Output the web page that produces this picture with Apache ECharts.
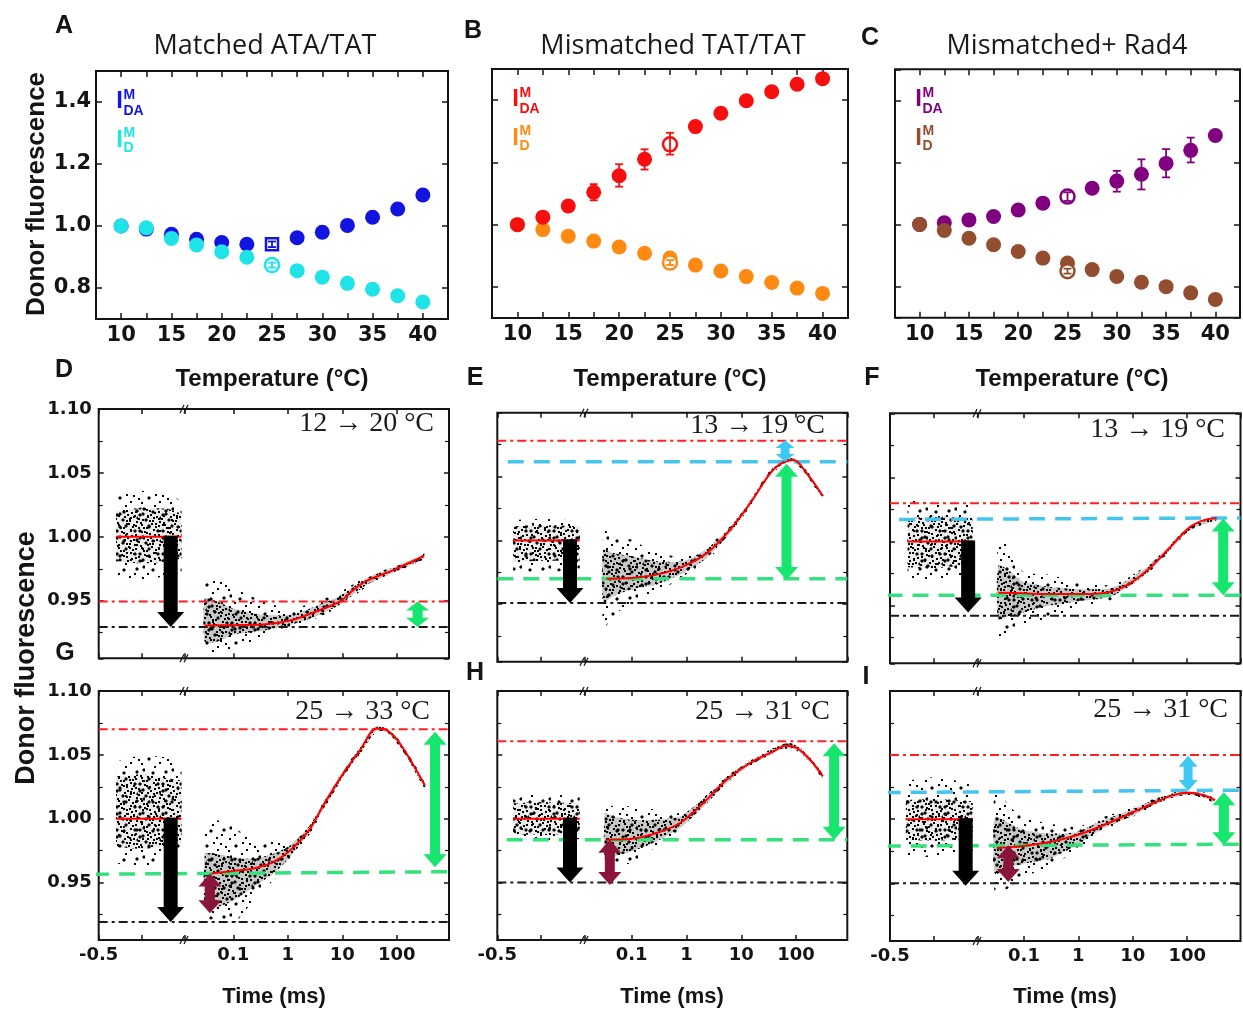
<!DOCTYPE html>
<html>
<head>
<meta charset="utf-8">
<script src="https://cdn.jsdelivr.net/npm/echarts@6/dist/echarts.min.js"></script>
<style>
html, body { margin: 0; background: #fff; }
#main { width: 1243px; height: 1011px; }
</style>
</head>
<body>
<div id="main"></div>
<script>
// ---------- top row: donor fluorescence vs temperature ----------
var tempC = [10, 12.5, 15, 17.5, 20, 22.5, 25, 27.5, 30, 32.5, 35, 37.5, 40];

var matchedIDA = [1.0, 0.99, 0.973, 0.957, 0.947, 0.941, null, 0.962, 0.98, 1.002, 1.028, 1.055, 1.10];
var matchedID  = [1.0, 0.994, 0.96, 0.939, 0.917, 0.899, null, 0.856, 0.835, 0.815, 0.796, 0.775, 0.755];
var matchedOpenIDA = [[25, 0.941]];
var matchedOpenID  = [[25, 0.874]];
var matchedErrIDA = [[25, 0.932, 0.950]];
var matchedErrID  = [[25, 0.866, 0.882]];

var mismIDA = [1.0, 1.024, 1.06, 1.104, 1.157, 1.21, null, 1.315, 1.358, 1.398, 1.427, 1.451, 1.469];
var mismID  = [1.0, 0.984, 0.963, 0.947, 0.928, 0.908, 0.893, 0.87, 0.851, 0.833, 0.814, 0.796, 0.779];
var mismOpenIDA = [[25, 1.258]];
var mismOpenID  = [[25, 0.878]];
var mismErrIDA = [[17.5, 1.078, 1.13], [20, 1.122, 1.194], [22.5, 1.177, 1.242], [25, 1.225, 1.295]];
var mismErrID  = [[25, 0.870, 0.886]];

var rad4IDA = [1.0, 1.006, 1.015, 1.026, 1.047, 1.069, null, 1.117, 1.14, 1.162, 1.197, 1.239, 1.287];
var rad4ID  = [1.0, 0.981, 0.956, 0.935, 0.913, 0.892, 0.876, 0.855, 0.833, 0.814, 0.8, 0.78, 0.759];
var rad4OpenIDA = [[25, 1.09]];
var rad4OpenID  = [[25, 0.85]];
var rad4ErrIDA = [[25, 1.076, 1.104], [30, 1.106, 1.173], [32.5, 1.113, 1.21], [35, 1.152, 1.243], [37.5, 1.2, 1.28]];
var rad4ErrID  = [[25, 0.842, 0.858]];

// ---------- kinetic traces (x: ms, pre-trigger linear / post log) ----------
var D_preOuter  = [[-0.4, 0.968, 1.032], [-0.25, 0.965, 1.036], [-0.1, 0.970, 1.034], [-0.02, 0.972, 1.028]];
var D_preInner  = [[-0.4, 0.981, 1.020], [-0.25, 0.979, 1.023], [-0.1, 0.981, 1.022], [-0.02, 0.983, 1.018]];
var D_postOuter = [[0.030, 0.909, 0.965], [0.05, 0.908, 0.966], [0.1, 0.911, 0.960], [0.355, 0.922, 0.9495], [1.1, 0.929, 0.944], [3.4, 0.9365, 0.9495], [9.1, 0.9456, 0.957], [28, 0.961, 0.969], [86, 0.9715, 0.9767], [316, 0.9827, 0.987]];
var D_postInner = [[0.030, 0.918, 0.952], [0.05, 0.918, 0.9495], [0.1, 0.9235, 0.944], [0.355, 0.9266, 0.939], [1.1, 0.931, 0.939], [3.4, 0.938, 0.946], [9.1, 0.947, 0.954], [28, 0.9625, 0.9676], [86, 0.972, 0.976], [316, 0.983, 0.986]];
var D_fit = [[0.030, 0.9306], [0.1, 0.9309], [0.355, 0.9314], [1.1, 0.9345], [3.4, 0.9418], [9.1, 0.9495], [16, 0.9585], [28, 0.9655], [86, 0.974], [316, 0.985]];
var D_preLevel = [[-0.4, 1.0], [-0.02, 1.0]];
var D_red = [0.9494, 0.9494];
var D_black = [0.9295, 0.9295];
var D_blackArrow = [-0.083, 1.0, 0.9295];
var D_greenArrow = [241, 0.9495, 0.9295];

var E_preOuter  = [[-0.41, 0.976, 1.016], [-0.25, 0.975, 1.017], [-0.1, 0.976, 1.016], [-0.03, 0.978, 1.015]];
var E_preInner  = [[-0.41, 0.983, 1.011], [-0.25, 0.984, 1.012], [-0.03, 0.984, 1.011]];
var E_postOuter = [[0.0304, 0.9304, 1.0083], [0.046, 0.9408, 1.0031], [0.1, 0.9512, 1.0005], [0.286, 0.959, 0.9901], [0.877, 0.972, 0.9875], [2.34, 0.9836, 0.9953], [6.24, 1.0044, 1.011], [14.5, 1.0265, 1.0317], [33.6, 1.0504, 1.0551], [55, 1.0585, 1.0625], [89.5, 1.0608, 1.065], [157, 1.0505, 1.0545], [308, 1.0327, 1.0369]];
var E_postInner = [[0.0304, 0.9512, 0.9927], [0.046, 0.9564, 0.9901], [0.1, 0.9616, 0.9875], [0.286, 0.9655, 0.9836], [0.877, 0.9745, 0.9836], [2.34, 0.9862, 0.9932], [6.24, 1.0057, 1.0099], [14.5, 1.0273, 1.0309], [33.6, 1.0512, 1.0543], [55, 1.0592, 1.0618], [89.5, 1.0616, 1.0642], [157, 1.0512, 1.0538], [308, 1.0335, 1.0361]];
var E_fit = [[0.035, 0.970], [0.1, 0.9706], [0.286, 0.9732], [0.877, 0.9797], [2.34, 0.990], [6.24, 1.0083], [14.5, 1.029], [33.6, 1.0525], [51, 1.0597], [89.5, 1.0629], [157, 1.0525], [308, 1.0348]];
var E_preLevel = [[-0.41, 1.0], [-0.03, 1.0]];
var E_red = [1.078, 1.078];
var E_cyan = [1.0616, 1.0616];
var E_green = [0.970, 0.970];
var E_black = [0.951, 0.951];
var E_blackArrow = [-0.0856, 1.0, 0.951];
var E_cyanArrow = [63, 1.0785, 1.0616];
var E_greenArrow = [67, 1.0600, 0.969];

var F_preOuter  = [[-0.4, 0.972, 1.033], [-0.25, 0.970, 1.030], [-0.1, 0.973, 1.030], [-0.03, 0.976, 1.028]];
var F_preInner  = [[-0.4, 0.980, 1.018], [-0.25, 0.979, 1.020], [-0.03, 0.982, 1.018]];
var F_postOuter = [[0.0338, 0.9234, 1.0059], [0.0553, 0.9287, 0.9952], [0.097, 0.934, 0.9766], [0.30, 0.9394, 0.9739], [1.23, 0.950, 0.9673], [3.8, 0.954, 0.966], [8.85, 0.9646, 0.9726], [20.6, 0.9766, 0.9832], [48, 0.9926, 0.9979], [112, 1.0085, 1.0125], [347, 1.0165, 1.0191]];
var F_postInner = [[0.0338, 0.9394, 0.9819], [0.0553, 0.942, 0.9766], [0.097, 0.9447, 0.9686], [0.30, 0.950, 0.9646], [1.23, 0.954, 0.9628], [3.8, 0.9566, 0.9633], [8.85, 0.9654, 0.9707], [20.6, 0.9774, 0.9819], [48, 0.9934, 0.9971], [112, 1.009, 1.012], [347, 1.017, 1.0186]];
var F_fit = [[0.0338, 0.960], [0.097, 0.9596], [0.30, 0.959], [1.23, 0.959], [3.8, 0.9606], [8.85, 0.9673], [20.6, 0.9793], [48, 0.9952], [112, 1.0112], [197, 1.0165], [347, 1.0184]];
var F_preLevel = [[-0.40, 1.0], [-0.03, 1.0]];
var F_red = [1.0298, 1.0298];
var F_cyan = [1.0172, 1.0184];
var F_green = [0.958, 0.958];
var F_black = [0.942, 0.942];
var F_blackArrow = [-0.056, 1.0, 0.9447];
var F_greenArrow = [459, 1.018, 0.958];

var G_preOuter  = [[-0.4, 0.965, 1.045], [-0.25, 0.962, 1.050], [-0.1, 0.966, 1.048], [-0.02, 0.972, 1.040]];
var G_preInner  = [[-0.4, 0.978, 1.033], [-0.25, 0.976, 1.035], [-0.02, 0.980, 1.030]];
var G_postOuter = [[0.0303, 0.9228, 0.9935], [0.0495, 0.9202, 0.9987], [0.1, 0.9176, 0.9935], [0.233, 0.9359, 0.983], [0.542, 0.9516, 0.9817], [1.1, 0.9647, 0.983], [2.55, 0.9882, 0.9961], [4.48, 1.0065, 1.0131], [10.4, 1.0327, 1.0379], [21.1, 1.0505, 1.0563], [42.7, 1.0683, 1.0725], [65, 1.0672, 1.0714], [114, 1.0563, 1.0615], [329, 1.0235, 1.0288]];
var G_postInner = [[0.0303, 0.9307, 0.9725], [0.0495, 0.9307, 0.9725], [0.1, 0.9359, 0.9699], [0.233, 0.9464, 0.9686], [0.542, 0.9568, 0.9725], [1.1, 0.9699, 0.9791], [2.55, 0.9895, 0.9948], [4.48, 1.0073, 1.0123], [10.4, 1.0335, 1.0372], [21.1, 1.0513, 1.0555], [42.7, 1.0688, 1.072], [65, 1.0678, 1.0708], [114, 1.057, 1.0607], [329, 1.0243, 1.028]];
var G_fit = [[0.04, 0.957], [0.1, 0.959], [0.233, 0.961], [0.542, 0.966], [1.1, 0.975], [2.55, 0.992], [4.48, 1.0105], [10.4, 1.0353], [21.1, 1.0536], [42.7, 1.0706], [65, 1.0693], [114, 1.0589], [329, 1.026]];
var G_preLevel = [[-0.4, 1.0], [-0.02, 1.0]];
var G_red = [1.07, 1.07];
var G_green = [0.9565, 0.9585];
var G_black = [0.919, 0.919];
var G_blackArrow = [-0.083, 1.0, 0.919];
var G_maroonArrow = [0.0373, 0.957, 0.926];
var G_greenArrow = [503, 1.068, 0.962];

var H_preOuter  = [[-0.41, 0.983, 1.018], [-0.25, 0.982, 1.020], [-0.03, 0.984, 1.017]];
var H_preInner  = [[-0.41, 0.988, 1.012], [-0.25, 0.987, 1.013], [-0.03, 0.988, 1.012]];
var H_postOuter = [[0.0326, 0.9627, 1.0123], [0.0462, 0.9627, 1.0097], [0.1, 0.9653, 1.0097], [0.286, 0.9783, 1.007], [0.762, 0.9914, 1.0044], [2.03, 1.0084, 1.0162], [5.43, 1.0274, 1.0332], [14.5, 1.041, 1.0462], [38.6, 1.0507, 1.0554], [63, 1.0548, 1.0595], [102, 1.0535, 1.058], [180, 1.0437, 1.0487], [308, 1.0305, 1.0358]];
var H_postInner = [[0.0326, 0.9679, 1.0044], [0.0462, 0.9705, 1.0018], [0.1, 0.9744, 0.9992], [0.286, 0.9822, 0.9992], [0.762, 0.9927, 1.0018], [2.03, 1.0091, 1.0154], [5.43, 1.0279, 1.0324], [14.5, 1.0418, 1.0454], [38.6, 1.0514, 1.0546], [63, 1.0556, 1.0588], [102, 1.054, 1.0572], [180, 1.0445, 1.048], [308, 1.0313, 1.035]];
var H_fit = [[0.035, 0.9836], [0.1, 0.9843], [0.286, 0.9888], [0.762, 0.9966], [2.03, 1.0123], [5.43, 1.0305], [14.5, 1.0436], [38.6, 1.0527], [63, 1.0572], [102, 1.0554], [180, 1.0462], [308, 1.0332]];
var H_preLevel = [[-0.41, 1.0], [-0.03, 1.0]];
var H_red = [1.0606, 1.0606];
var H_green = [0.9836, 0.9836];
var H_black = [0.950, 0.950];
var H_blackArrow = [-0.0856, 1.0, 0.950];
var H_maroonArrow = [0.040, 0.9836, 0.948];
var H_greenArrow = [494, 1.059, 0.9836];

var I_preOuter  = [[-0.41, 0.972, 1.030], [-0.25, 0.970, 1.033], [-0.03, 0.975, 1.028]];
var I_preInner  = [[-0.41, 0.984, 1.015], [-0.25, 0.983, 1.016], [-0.03, 0.985, 1.014]];
var I_postOuter = [[0.0293, 0.9418, 1.0253], [0.0553, 0.947, 1.0097], [0.097, 0.9548, 1.0018], [0.30, 0.9627, 0.9966], [0.93, 0.9757, 0.994], [2.86, 0.9901, 1.0018], [8.85, 1.0005, 1.0084], [27.3, 1.0117, 1.017], [55, 1.0163, 1.021], [104, 1.018, 1.0227], [197, 1.0165, 1.021], [323, 1.0128, 1.017]];
var I_postInner = [[0.0293, 0.9574, 1.0018], [0.0553, 0.9627, 0.9966], [0.097, 0.9653, 0.9914], [0.30, 0.9692, 0.9888], [0.93, 0.9796, 0.9901], [2.86, 0.9927, 0.9992], [8.85, 1.0018, 1.007], [27.3, 1.0123, 1.0159], [55, 1.017, 1.0203], [104, 1.0188, 1.0219], [197, 1.0172, 1.0203], [323, 1.0136, 1.0162]];
var I_fit = [[0.0315, 0.9775], [0.097, 0.9791], [0.30, 0.9822], [0.93, 0.9875], [2.86, 0.9953], [8.85, 1.0044], [27.3, 1.0136], [55, 1.0188], [104, 1.0206], [197, 1.0188], [323, 1.0149]];
var I_preLevel = [[-0.41, 1.0], [-0.03, 1.0]];
var I_red = [1.0501, 1.0501];
var I_cyan = [1.0208, 1.0227];
var I_green = [0.979, 0.9805];
var I_black = [0.950, 0.950];
var I_blackArrow = [-0.070, 1.0, 0.948];
var I_maroonArrow = [0.0515, 0.9796, 0.951];
var I_cyanArrow = [104, 1.0495, 1.022];
var I_greenArrow = [472, 1.021, 0.9796];

// ---------- layout & styles ----------
var INK = '#141414';
var SANS = '"Liberation Sans", Arial, sans-serif';
var TICKFONT = '"DejaVu Sans", Verdana, sans-serif';

var topBoxes = [
    {left: 96, top: 71, width: 352, height: 248},
    {left: 492, top: 69, width: 356, height: 249},
    {left: 895, top: 69.3, width: 352, height: 248.4}
];
var cols = [
    {left: 98.7, brk: 185, right: 449, logMin: 0.013, logMax: 908},
    {left: 497.3, brk: 585, right: 847.3, logMin: 0.0141, logMax: 860},
    {left: 890, brk: 978, right: 1240.5, logMin: 0.0143, logMax: 955}
];
var Y0 = 0.905, Y1 = 1.10;

var lineStyles = {
    red:   {color: '#ff1f1f', width: 2, type: [9, 4, 3, 4]},
    black: {color: '#1a1a1a', width: 2, type: [9, 4, 3, 4]},
    green: {color: '#36e07c', width: 3.5, type: [16, 10]},
    cyan:  {color: '#45c5ee', width: 3.5, type: [16, 10]}
};
var arrowStyles = {
    black:  {color: '#000000', shaft: 14, headW: 27, headL: 15, double: false},
    green:  {color: '#16e66e', shaft: 10, headW: 23, headL: 13, double: true},
    cyan:   {color: '#3ec8f2', shaft: 9, headW: 19, headL: 11, double: true},
    maroon: {color: '#8a1538', shaft: 10, headW: 23, headL: 13, double: true}
};

// hand-placed speckle tiles used as texture for the dense point clouds
var denseDots = [[1, 1], [8, 3], [15, 0], [20, 5], [4, 7], [12, 8], [18, 10], [0, 12], [7, 13], [14, 14],
    [21, 15], [3, 18], [10, 19], [17, 20], [6, 2], [11, 4], [19, 1], [2, 16], [9, 10], [16, 6], [22, 11],
    [5, 21], [13, 17], [20, 19], [1, 8], [8, 21], [15, 11], [11, 14]];
var sparseDots = [[3, 4], [17, 2], [25, 9], [9, 12], [20, 17], [2, 22], [13, 25], [26, 26], [7, 18],
    [22, 5], [14, 8], [10, 1], [27, 15], [18, 22]];
function speckle(size, dots) {
    var cv = document.createElement('canvas');
    cv.width = cv.height = size;
    var ctx = cv.getContext('2d');
    ctx.fillStyle = '#000';
    dots.forEach(function (d, i) {
        ctx.fillRect(d[0], d[1], 2, 2);
        if (i % 4 === 0) { ctx.fillRect(d[0] - 1, d[1] + 0.5, 4, 1); ctx.fillRect(d[0] + 0.5, d[1] - 1, 1, 4); }
    });
    return {image: cv, repeat: 'repeat'};
}
var denseFill = speckle(23, denseDots);
var sparseFill = speckle(29, sparseDots);

var grids = [], xAxes = [], yAxes = [], series = [], graphic = [];

function tick(len) {
    return {show: true, inside: true, length: len, lineStyle: {color: INK, width: 1.5}};
}

function txt(x, y, text, font, color, align, rot) {
    graphic.push({type: 'text', x: x, y: y, rotation: rot || 0, silent: true, z: 20,
        style: {text: text, font: font, fill: color || INK, align: align || 'center', verticalAlign: 'middle'}});
}

function toPairs(xs, ys) {
    var out = [];
    xs.forEach(function (x, i) { if (ys[i] != null) out.push([x, ys[i]]); });
    return out;
}

function scatter(xi, yi, data, color, symbol, size, z, hollow) {
    return {type: 'scatter', xAxisIndex: xi, yAxisIndex: yi, data: data, symbol: symbol, symbolSize: size,
        z: z, silent: true,
        itemStyle: hollow ? {color: '#ffffff', borderColor: color, borderWidth: 2.5, opacity: 1} : {color: color, opacity: 1}};
}

function errorBars(xi, yi, data, color, z) {
    return {type: 'custom', xAxisIndex: xi, yAxisIndex: yi, data: data, z: z, silent: true,
        encode: {x: 0, y: [1, 2]},
        renderItem: function (params, api) {
            var lo = api.coord([api.value(0), api.value(1)]);
            var hi = api.coord([api.value(0), api.value(2)]);
            var st = {stroke: color, lineWidth: 1.8};
            return {type: 'group', children: [
                {type: 'line', shape: {x1: lo[0], y1: lo[1], x2: hi[0], y2: hi[1]}, style: st},
                {type: 'line', shape: {x1: lo[0] - 4, y1: lo[1], x2: lo[0] + 4, y2: lo[1]}, style: st},
                {type: 'line', shape: {x1: hi[0] - 4, y1: hi[1], x2: hi[0] + 4, y2: hi[1]}, style: st}
            ]};
        }};
}

function band(xi, yi, pts, fill, smooth, z) {
    return {type: 'custom', xAxisIndex: xi, yAxisIndex: yi, silent: true, z: z,
        data: [[pts[0][0], pts[0][1]]],
        renderItem: function (params, api) {
            var upper = pts.map(function (p) { return api.coord([p[0], p[2]]); });
            var lower = pts.slice().reverse().map(function (p) { return api.coord([p[0], p[1]]); });
            return {type: 'polygon', shape: {points: upper.concat(lower), smooth: smooth}, style: {fill: fill}};
        }};
}

function arrow(xi, yi, a, st) {
    return {type: 'custom', xAxisIndex: xi, yAxisIndex: yi, silent: true, clip: false, z: 8,
        data: [a], encode: {x: 0, y: [1, 2]},
        renderItem: function (params, api) {
            var p = api.coord([api.value(0), api.value(1)]);
            var q = api.coord([api.value(0), api.value(2)]);
            var dir = q[1] > p[1] ? 1 : -1;
            var len = Math.abs(q[1] - p[1]);
            var hl = Math.min(st.headL, len * (st.double ? 0.36 : 0.5));
            var x = p[0], hw = st.headW / 2;
            var s0 = st.double ? p[1] + dir * hl : p[1];
            var s1 = q[1] - dir * hl;
            var kids = [];
            if ((s1 - s0) * dir > 0) {
                kids.push({type: 'rect', shape: {x: x - st.shaft / 2, y: Math.min(s0, s1) - 1, width: st.shaft,
                    height: Math.abs(s1 - s0) + 2}, style: {fill: st.color}});
            }
            kids.push({type: 'polygon', shape: {points: [[x - hw, s1], [x + hw, s1], [x, q[1]]]}, style: {fill: st.color}});
            if (st.double) {
                kids.push({type: 'polygon', shape: {points: [[x - hw, s0], [x + hw, s0], [x, p[1]]]}, style: {fill: st.color}});
            }
            return {type: 'group', children: kids};
        }};
}

// ---------- top panels ----------
function topPanel(box, p) {
    var g = grids.length;
    grids.push({left: box.left, top: box.top, width: box.width, height: box.height,
        show: true, borderColor: INK, borderWidth: 2});
    var xi = xAxes.length;
    ['bottom', 'top'].forEach(function (pos, k) {
        xAxes.push({type: 'value', gridIndex: g, position: pos, min: 7.5, max: 42.5, interval: 2.5,
            axisLine: {show: false}, axisTick: tick(6), splitLine: {show: false},
            axisLabel: {show: k === 0, margin: 6, color: INK, fontFamily: TICKFONT, fontWeight: 'bold', fontSize: 21,
                formatter: function (v) { return v % 5 === 0 ? String(v) : ''; }}});
    });
    var yi = yAxes.length;
    ['left', 'right'].forEach(function (pos, k) {
        yAxes.push({type: 'value', gridIndex: g, position: pos, min: 0.7, max: 1.5, splitNumber: 4,
            axisLine: {show: false}, axisTick: tick(6), splitLine: {show: false},
            axisLabel: {show: k === 0 && p.yLabels, showMinLabel: false, showMaxLabel: false, margin: 5,
                color: INK, fontFamily: TICKFONT, fontWeight: 'bold', fontSize: 21,
                formatter: function (v) { return v.toFixed(1); }}});
    });
    series.push(scatter(xi, yi, toPairs(tempC, p.da), p.daColor, 'circle', 15, p.daZ, false));
    series.push(scatter(xi, yi, toPairs(tempC, p.d), p.dColor, 'circle', 15, p.dZ, false));
    series.push(scatter(xi, yi, p.daOpen, p.daColor, p.daOpenSymbol, p.daOpenSymbol === 'rect' ? 12 : 14, 6, true));
    series.push(scatter(xi, yi, p.dOpen, p.dColor, 'circle', 14, 6, true));
    series.push(errorBars(xi, yi, p.daErr, p.daColor, 7));
    series.push(errorBars(xi, yi, p.dErr, p.dColor, 7));

    // in-plot legend  I^M_DA / I^M_D
    var lx = box.left + 23.5, ly = box.top;
    txt(lx, ly + 30.5, 'I', 'bold 24px ' + SANS, p.daColor);
    txt(lx + 4, ly + 24, 'M', 'bold 14px ' + SANS, p.daColor, 'left');
    txt(lx + 4, ly + 40, 'DA', 'bold 14px ' + SANS, p.daColor, 'left');
    txt(lx, ly + 69.5, 'I', 'bold 24px ' + SANS, p.dColor);
    txt(lx + 4, ly + 62, 'M', 'bold 14px ' + SANS, p.dColor, 'left');
    txt(lx + 4, ly + 77, 'D', 'bold 14px ' + SANS, p.dColor, 'left');

    txt(box.left + box.width / 2 + p.titleShift, 46, p.title, '27px "Open Sans", "Noto Sans", sans-serif', '#1a1a1a');
    txt(p.xNameX, 379, 'Temperature (°C)', 'bold 24px ' + SANS);
}

topPanel(topBoxes[0], {title: 'Matched ATA/TAT', titleShift: -7, xNameX: 272, yLabels: true,
    da: matchedIDA, d: matchedID, daOpen: matchedOpenIDA, dOpen: matchedOpenID, daOpenSymbol: 'rect',
    daErr: matchedErrIDA, dErr: matchedErrID, daColor: '#1414e0', dColor: '#1fe3e6', daZ: 3, dZ: 4});
topPanel(topBoxes[1], {title: 'Mismatched TAT/TAT', titleShift: 3, xNameX: 670, yLabels: false,
    da: mismIDA, d: mismID, daOpen: mismOpenIDA, dOpen: mismOpenID, daOpenSymbol: 'circle',
    daErr: mismErrIDA, dErr: mismErrID, daColor: '#f50f0f', dColor: '#ff8a12', daZ: 4, dZ: 3});
topPanel(topBoxes[2], {title: 'Mismatched+ Rad4', titleShift: -4, xNameX: 1072, yLabels: false,
    da: rad4IDA, d: rad4ID, daOpen: rad4OpenIDA, dOpen: rad4OpenID, daOpenSymbol: 'circle',
    daErr: rad4ErrIDA, dErr: rad4ErrID, daColor: '#800080', dColor: '#924e2e', daZ: 3, dZ: 4});

// ---------- kinetic panels ----------
function kineticPanel(p) {
    var c = cols[p.col];
    var top = p.top, h = p.bottom - p.top;
    var g0 = grids.length;
    grids.push({left: c.left, top: top, width: c.right - c.left, height: h, show: true, borderColor: INK, borderWidth: 2});
    grids.push({left: c.left, top: top, width: c.brk - c.left, height: h});
    grids.push({left: c.brk, top: top, width: c.right - c.brk, height: h});

    var xBox = xAxes.length;
    xAxes.push({type: 'value', gridIndex: g0, min: 0, max: 1, show: false});
    var xPre = xAxes.length;
    ['bottom', 'top'].forEach(function (pos, k) {
        xAxes.push({type: 'value', gridIndex: g0 + 1, position: pos, min: -0.5, max: 0, interval: 0.25,
            axisLine: {show: false}, axisTick: tick(5), splitLine: {show: false},
            axisLabel: {show: k === 0 && p.xLabels, margin: 6, color: INK, fontFamily: TICKFONT, fontWeight: 'bold', fontSize: 18,
                formatter: function (v) { return v === -0.5 ? '-0.5' : ''; }}});
    });
    var xPost = xAxes.length;
    ['bottom', 'top'].forEach(function (pos, k) {
        xAxes.push({type: 'log', gridIndex: g0 + 2, position: pos, min: c.logMin, max: c.logMax, logBase: 10,
            axisLine: {show: false}, axisTick: tick(5), splitLine: {show: false}, minorTick: {show: false},
            axisLabel: {show: k === 0 && p.xLabels, showMinLabel: false, showMaxLabel: false, margin: 6,
                color: INK, fontFamily: TICKFONT, fontWeight: 'bold', fontSize: 18,
                formatter: function (v) { return String(+(+v).toPrecision(3)); }}});
    });
    var yBox = yAxes.length;
    ['left', 'right'].forEach(function (pos, k) {
        yAxes.push({type: 'value', gridIndex: g0, position: pos, min: Y0, max: Y1, splitNumber: 4,
            axisLine: {show: false}, axisTick: tick(5), splitLine: {show: false},
            minorTick: {show: true, splitNumber: 2, length: 4, lineStyle: {color: INK, width: 1.2}},
            axisLabel: {show: k === 0 && p.yLabels, showMinLabel: false, margin: 7,
                color: INK, fontFamily: TICKFONT, fontWeight: 'bold', fontSize: 18,
                formatter: function (v) { return v.toFixed(2); }}});
    });
    var yPre = yAxes.length;
    yAxes.push({type: 'value', gridIndex: g0 + 1, min: Y0, max: Y1, show: false});
    var yPost = yAxes.length;
    yAxes.push({type: 'value', gridIndex: g0 + 2, min: Y0, max: Y1, show: false});

    // point clouds
    series.push(band(xPre, yPre, p.preOuter, sparseFill, 0, 1));
    series.push(band(xPre, yPre, p.preInner, 'rgba(0,0,0,0.08)', 0, 1));
    series.push(band(xPre, yPre, p.preInner, denseFill, 0, 1));
    series.push(band(xPost, yPost, p.postOuter, sparseFill, 0.2, 1));
    series.push(band(xPost, yPost, p.postInner, 'rgba(0,0,0,0.22)', 0.2, 1));
    series.push(band(xPost, yPost, p.postInner, denseFill, 0.2, 1));

    // reference levels
    p.lines.forEach(function (ln) {
        var st = lineStyles[ln[0]], ext = ln[2];
        series.push({type: 'line', xAxisIndex: xBox, yAxisIndex: yBox, silent: true, clip: false, z: 3,
            data: [[ext[0], ln[1][0]], [ext[1], ln[1][1]]], symbol: 'none',
            lineStyle: {color: st.color, width: st.width, type: st.type}});
    });

    // fits
    series.push({type: 'line', xAxisIndex: xPre, yAxisIndex: yPre, silent: true, z: 5, data: p.preLevel,
        symbol: 'none', lineStyle: {color: '#ff0000', width: 2}});
    series.push({type: 'line', xAxisIndex: xPost, yAxisIndex: yPost, silent: true, z: 5, data: p.fit,
        symbol: 'none', smooth: 0.35, lineStyle: {color: '#ff0000', width: 2}});

    // arrows
    p.arrows.forEach(function (a) {
        var onPre = a[0] === 'pre';
        series.push(arrow(onPre ? xPre : xPost, onPre ? yPre : yPost, a[2], arrowStyles[a[1]]));
    });

    // axis break marks
    [top, top + h].forEach(function (yy) {
        [-3, 1].forEach(function (dx) {
            graphic.push({type: 'line', silent: true, z: 20,
                shape: {x1: c.brk + dx - 2, y1: yy + 4, x2: c.brk + dx + 2, y2: yy - 4},
                style: {stroke: INK, lineWidth: 1.3}});
        });
    });

    txt(p.labelAt[0], p.labelAt[1], p.label, '28px "Liberation Serif", "DejaVu Serif", serif', '#1a1a1a', 'right');
    txt(p.letterAt[0], p.letterAt[1], p.letter, 'bold 25px ' + SANS);
}

kineticPanel({letter: 'D', letterAt: [64, 370], col: 0, top: 409, bottom: 658.3, yLabels: true, xLabels: false,
    preOuter: D_preOuter, preInner: D_preInner, postOuter: D_postOuter, postInner: D_postInner,
    fit: D_fit, preLevel: D_preLevel,
    lines: [['red', D_red, [0, 1]], ['black', D_black, [0, 1]]],
    arrows: [['pre', 'black', D_blackArrow], ['post', 'green', D_greenArrow]],
    label: '12 → 20 °C', labelAt: [434, 424]});
kineticPanel({letter: 'E', letterAt: [475, 378], col: 1, top: 412.7, bottom: 661.7, yLabels: false, xLabels: false,
    preOuter: E_preOuter, preInner: E_preInner, postOuter: E_postOuter, postInner: E_postInner,
    fit: E_fit, preLevel: E_preLevel,
    lines: [['red', E_red, [0, 1]], ['cyan', E_cyan, [0.03, 1]], ['green', E_green, [0, 1]], ['black', E_black, [0, 1]]],
    arrows: [['pre', 'black', E_blackArrow], ['post', 'green', E_greenArrow], ['post', 'cyan', E_cyanArrow]],
    label: '13 → 19 °C', labelAt: [825, 426]});
kineticPanel({letter: 'F', letterAt: [872, 378], col: 2, top: 413.3, bottom: 663.3, yLabels: false, xLabels: false,
    preOuter: F_preOuter, preInner: F_preInner, postOuter: F_postOuter, postInner: F_postInner,
    fit: F_fit, preLevel: F_preLevel,
    lines: [['red', F_red, [0, 1]], ['cyan', F_cyan, [0.026, 1]], ['green', F_green, [-0.01, 1]], ['black', F_black, [0, 1]]],
    arrows: [['pre', 'black', F_blackArrow], ['post', 'green', F_greenArrow]],
    label: '13 → 19 °C', labelAt: [1225, 430]});
kineticPanel({letter: 'G', letterAt: [65, 653], col: 0, top: 691, bottom: 940, yLabels: true, xLabels: true,
    preOuter: G_preOuter, preInner: G_preInner, postOuter: G_postOuter, postInner: G_postInner,
    fit: G_fit, preLevel: G_preLevel,
    lines: [['red', G_red, [0, 1]], ['green', G_green, [-0.016, 1.012]], ['black', G_black, [0, 1]]],
    arrows: [['pre', 'black', G_blackArrow], ['post', 'maroon', G_maroonArrow], ['post', 'green', G_greenArrow]],
    label: '25 → 33 °C', labelAt: [430, 712]});
kineticPanel({letter: 'H', letterAt: [475, 673], col: 1, top: 691, bottom: 940, yLabels: false, xLabels: true,
    preOuter: H_preOuter, preInner: H_preInner, postOuter: H_postOuter, postInner: H_postInner,
    fit: H_fit, preLevel: H_preLevel,
    lines: [['red', H_red, [0, 1]], ['green', H_green, [0.027, 1]], ['black', H_black, [0, 1]]],
    arrows: [['pre', 'black', H_blackArrow], ['post', 'maroon', H_maroonArrow], ['post', 'green', H_greenArrow]],
    label: '25 → 31 °C', labelAt: [830, 712]});
kineticPanel({letter: 'I', letterAt: [866, 677], col: 2, top: 691, bottom: 941, yLabels: false, xLabels: true,
    preOuter: I_preOuter, preInner: I_preInner, postOuter: I_postOuter, postInner: I_postInner,
    fit: I_fit, preLevel: I_preLevel,
    lines: [['red', I_red, [0, 1]], ['cyan', I_cyan, [-0.015, 1.01]], ['green', I_green, [-0.015, 1.01]], ['black', I_black, [0, 1]]],
    arrows: [['pre', 'black', I_blackArrow], ['post', 'maroon', I_maroonArrow], ['post', 'green', I_greenArrow], ['post', 'cyan', I_cyanArrow]],
    label: '25 → 31 °C', labelAt: [1228, 710]});

// ---------- figure-level text ----------
txt(64, 26, 'A', 'bold 25px ' + SANS);
txt(473, 31, 'B', 'bold 25px ' + SANS);
txt(870, 38, 'C', 'bold 25px ' + SANS);
txt(37, 194, 'Donor fluorescence', 'bold 26px ' + SANS, INK, 'center', Math.PI / 2);
txt(27, 658, 'Donor fluorescence', 'bold 27px ' + SANS, INK, 'center', Math.PI / 2);
txt(274, 997, 'Time (ms)', 'bold 22px ' + SANS);
txt(672, 997, 'Time (ms)', 'bold 22px ' + SANS);
txt(1065, 997, 'Time (ms)', 'bold 22px ' + SANS);

var chart = echarts.init(document.getElementById('main'));
chart.setOption({
    animation: false,
    backgroundColor: '#ffffff',
    grid: grids,
    xAxis: xAxes,
    yAxis: yAxes,
    series: series,
    graphic: {elements: graphic}
});
</script>
</body>
</html>
